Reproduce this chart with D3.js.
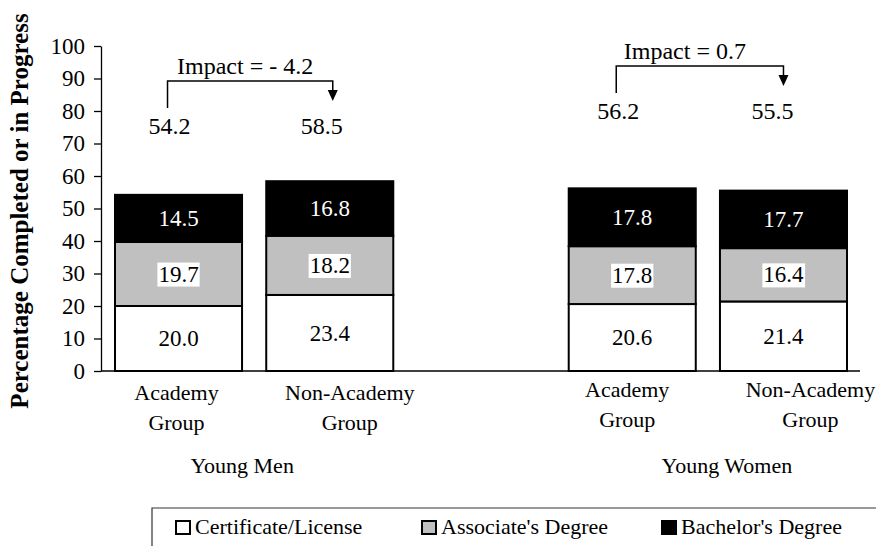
<!DOCTYPE html>
<html><head><meta charset="utf-8">
<script src="https://cdn.jsdelivr.net/npm/d3@7"></script>
<style>
body{margin:0;background:#fff}
svg{display:block}
text{font-family:"Liberation Serif","Times New Roman",serif;fill:#000}
</style>
</head><body>
<svg id="chart" width="876" height="546"></svg>
<script>
// ---- data ----
const barKeys = ["MA", "MN", "WA", "WN"];
const slotKeys = ["MA", "MN", "gap", "WA", "WN"];
const barLabels = [["Academy", "Group"], ["Non-Academy", "Group"], ["Academy", "Group"], ["Non-Academy", "Group"]];
const groupNames = ["Young Men", "Young Women"];
const seriesNames = ["Certificate/License", "Associate's Degree", "Bachelor's Degree"];
const certificate = [20.0, 23.4, 20.6, 21.4];
const associate = [19.7, 18.2, 17.8, 16.4];
const bachelor = [14.5, 16.8, 17.8, 17.7];
const totals = ["54.2", "58.5", "56.2", "55.5"];
const impacts = ["Impact = - 4.2", "Impact = 0.7"];
const yTicks = [0, 10, 20, 30, 40, 50, 60, 70, 80, 90, 100];
const seriesColors = ["#ffffff", "#c0c0c0", "#000000"];
const labelColors = ["#000", "#000", "#fff"];

// ---- layout ----
const svg = d3.select("#chart");
const FONT = 23;
const x = d3.scaleBand().domain(slotKeys).range([115, 847]).paddingInner(0.16).paddingOuter(0);
const y = d3.scaleLinear().domain([0, 100]).range([371, 46]);
const cx = k => x(k) + x.bandwidth() / 2;

// table for stacking
const table = barKeys.map((k, i) => ({key: k, s0: certificate[i], s1: associate[i], s2: bachelor[i]}));
const stack = d3.stack().keys(["s0", "s1", "s2"]);
const layers = stack(table);

// y axis
const yAxis = d3.axisLeft(y).tickValues(yTicks).tickSize(7).tickSizeOuter(0).tickPadding(9);
const ga = svg.append("g").attr("transform", `translate(101,0)`).call(yAxis);
ga.attr("font-family", null);
ga.selectAll("path.domain").attr("stroke", "#000").attr("stroke-width", 1.3);
ga.selectAll(".tick line").attr("stroke", "#000").attr("stroke-width", 1.3);
ga.selectAll(".tick text").attr("font-size", FONT).style("font-family", "'Liberation Serif', 'Times New Roman', serif").attr("fill", "#000");

// x axis baseline
svg.append("line").attr("x1", 101).attr("x2", 860).attr("y1", y(0)).attr("y2", y(0))
  .attr("stroke", "#000").attr("stroke-width", 1.3);

// bars
layers.forEach((layer, li) => {
  const g = svg.append("g");
  g.selectAll("rect").data(layer).enter().append("rect")
    .attr("x", d => x(d.data.key))
    .attr("width", x.bandwidth())
    .attr("y", d => y(d[1]))
    .attr("height", d => y(d[0]) - y(d[1]))
    .attr("fill", seriesColors[li])
    .attr("stroke", "#000").attr("stroke-width", 2);
});
// segment labels
layers.forEach((layer, li) => {
  layer.forEach(d => {
    const tx = cx(d.data.key);
    const ty = y((d[0] + d[1]) / 2);
    const val = d[1] - d[0];
    const t = svg.append("text").attr("x", tx).attr("y", ty).attr("dy", "0.33em")
      .attr("text-anchor", "middle").attr("font-size", FONT)
      .style("fill", labelColors[li]).text(val.toFixed(1));
    if (li === 1) {
      const b = t.node().getBBox();
      svg.insert("rect", () => t.node()).attr("x", b.x - 1).attr("y", b.y + 1)
        .attr("width", b.width + 2).attr("height", b.height - 1).attr("fill", "#fff");
    }
  });
});

// category labels
const catDx = [-2, 20, -5, 27];
const catY = [400, 400, 397, 397];
barKeys.forEach((k, i) => {
  barLabels[i].forEach((s, j) => {
    svg.append("text").attr("x", cx(k) + catDx[i]).attr("y", catY[i] + j * 30)
      .attr("text-anchor", "middle").attr("font-size", 22).text(s);
  });
});
// group labels
const groupX = [(cx("MA") + cx("MN")) / 2 - 12, (cx("WA") + cx("WN")) / 2 + 19];
groupNames.forEach((g, i) => {
  svg.append("text").attr("x", groupX[i]).attr("y", 473).attr("text-anchor", "middle")
    .attr("font-size", 22).text(g);
});

// impact annotations
const bracketY = [81, 66];
const pairs = [["MA", "MN"], ["WA", "WN"]];
const leftDx = [-11, -16];
const rightDx = [3, 0];
const textDx = [-5, -15];
pairs.forEach((p, i) => {
  const xl = cx(p[0]) + leftDx[i];
  const xr = cx(p[1]) + rightDx[i];
  const by = bracketY[i];
  svg.append("path").attr("d", `M${xl},${by + 27}V${by}H${xr}V${by + 11}`)
    .attr("fill", "none").attr("stroke", "#000").attr("stroke-width", 1.5);
  svg.append("path").attr("d", `M${xr - 5},${by + 9}L${xr + 5},${by + 9}L${xr},${by + 20}Z`)
    .attr("fill", "#000");
  svg.append("text").attr("x", (xl + xr) / 2 + textDx[i]).attr("y", by - 7)
    .attr("text-anchor", "middle").attr("font-size", 24).text(impacts[i]);
  svg.append("text").attr("x", xl + 2).attr("y", by + 53)
    .attr("text-anchor", "middle").attr("font-size", 24).text(totals[i * 2]);
  svg.append("text").attr("x", xr - 11).attr("y", by + 53)
    .attr("text-anchor", "middle").attr("font-size", 24).text(totals[i * 2 + 1]);
});

// y title
svg.append("text").attr("transform", "translate(28,211) rotate(-90)")
  .attr("text-anchor", "middle").attr("font-size", 25).attr("font-weight", "bold")
  .text("Percentage Completed or in Progress");

// legend
svg.append("path").attr("d", "M152,546V508H876").attr("fill", "none")
  .attr("stroke", "#333").attr("stroke-width", 1.2);
const legX = [176, 422, 662];
seriesNames.forEach((s, i) => {
  svg.append("rect").attr("x", legX[i]).attr("y", 521).attr("width", 14).attr("height", 13)
    .attr("fill", seriesColors[i]).attr("stroke", "#000").attr("stroke-width", 2);
  svg.append("text").attr("x", legX[i] + 19).attr("y", 534).attr("font-size", 22).text(s);
});
</script>
</body></html>
